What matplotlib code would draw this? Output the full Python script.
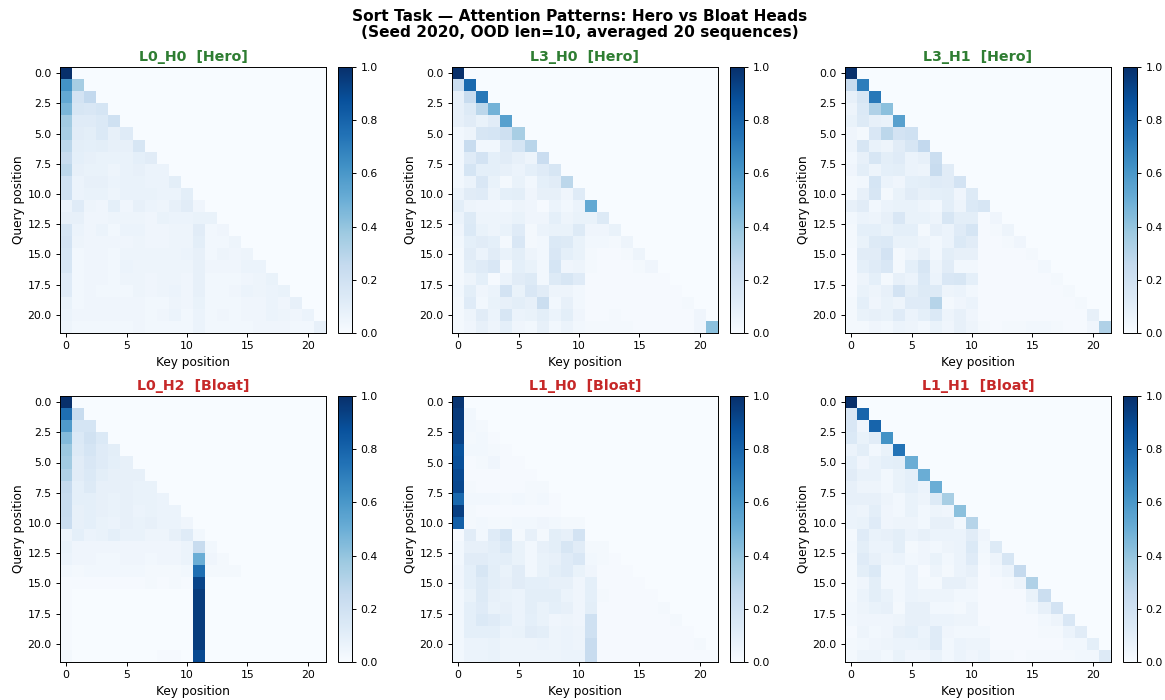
import numpy as np
import matplotlib
matplotlib.use("Agg")
import matplotlib.pyplot as plt

# Attention weights, in hundredths.
# Each row stops where the values fade to nothing, the rest is zero.
L0_H0 = [
    [100],
    [62, 35],
    [52, 18, 26],
    [46, 16, 15, 17],
    [36, 12, 12, 14, 20],
    [34, 11, 10, 14, 8, 12],
    [28, 10, 9, 10, 8, 8, 16],
    [24, 9, 8, 7, 7, 7, 9, 11],
    [28, 8, 7, 7, 5, 7, 8, 6, 6],
    [20, 6, 8, 8, 6, 7, 7, 6, 6, 10],
    [20, 6, 7, 7, 5, 7, 7, 7, 6, 6, 10],
    [6, 12, 5, 4, 9, 4, 8, 6, 5, 8, 11, 4],
    [8, 8, 4, 4, 5, 5, 5, 4, 7, 6, 6, 7, 7],
    [17, 6, 4, 6, 3, 6, 6, 4, 4, 5, 5, 11, 3, 4],
    [18, 5, 4, 4, 4, 4, 5, 4, 4, 5, 5, 10, 3, 3, 5],
    [17, 3, 4, 4, 3, 5, 5, 5, 5, 5, 6, 8, 3, 5, 4, 5],
    [16, 3, 4, 4, 3, 6, 5, 5, 5, 5, 5, 8, 4, 4, 4, 6, 6],
    [12, 3, 4, 4, 3, 5, 5, 4, 5, 5, 4, 8, 3, 3, 3, 4, 5, 7],
    [12, 3, 4, 3, 3, 3, 5, 4, 5, 6, 4, 8, 3, 3, 4, 6, 5, 6, 7],
    [7, 3, 4, 4, 4, 4, 4, 3, 3, 5, 4, 7, 3, 3, 3, 4, 4, 6, 4, 8],
    [6, 4, 4, 4, 4, 4, 4, 3, 4, 6, 3, 6, 3, 4, 3, 4, 4, 6, 5, 4, 6],
    [5, 3, 3, 3, 3, 3, 4, 3, 3, 3, 3, 6, 3, 3, 3, 3, 4, 4, 4, 3, 3, 8],
]

L3_H0 = [
    [100],
    [22, 78],
    [8, 24, 72],
    [8, 13, 28, 48],
    [8, 11, 7, 11, 56],
    [3, 5, 16, 17, 21, 34],
    [3, 24, 3, 3, 12, 17, 29],
    [3, 12, 18, 9, 11, 8, 5, 23],
    [3, 17, 9, 9, 8, 6, 9, 12, 16],
    [3, 6, 15, 7, 2, 7, 3, 9, 11, 28],
    [6, 11, 12, 5, 9, 10, 4, 8, 8, 4, 12],
    [10, 5, 4, 4, 3, 5, 4, 1, 6, 3, 6, 52],
    [6, 13, 5, 5, 5, 7, 4, 4, 9, 5, 7, 7, 13],
    [4, 14, 7, 5, 7, 12, 2, 6, 7, 7, 13, 4, 4, 7],
    [3, 9, 11, 9, 2, 15, 2, 3, 14, 13, 7, 3, 3, 2, 5],
    [2, 11, 6, 11, 7, 10, 5, 3, 15, 9, 7, 2, 1, 1, 2, 5],
    [2, 10, 12, 15, 2, 9, 7, 3, 17, 4, 5, 2, 1, 1, 1, 2, 4],
    [2, 5, 9, 1, 6, 11, 13, 3, 13, 16, 12, 1, 1, 1, 1, 1, 1, 1],
    [3, 10, 4, 6, 18, 7, 15, 11, 5, 5, 3, 1, 1, 1, 1, 1, 1, 1, 1],
    [2, 12, 3, 7, 8, 10, 8, 22, 3, 8, 3, 1, 1, 1, 1, 1, 1, 1, 1, 2],
    [2, 5, 11, 6, 16, 6, 7, 10, 6, 10, 4, 1, 1, 2, 1, 1, 1, 1, 1, 1, 4],
    [2, 4, 8, 5, 9, 4, 3, 8, 3, 6, 3, 2, 2, 2, 2, 1, 1, 1, 1, 1, 4, 42],
]

L3_H1 = [
    [100],
    [24, 70],
    [8, 16, 72],
    [5, 14, 32, 42],
    [7, 13, 8, 7, 56],
    [4, 2, 15, 28, 18, 20],
    [5, 16, 7, 5, 11, 16, 26],
    [3, 8, 16, 10, 12, 6, 8, 22],
    [4, 10, 5, 9, 10, 6, 5, 24, 11],
    [2, 3, 17, 6, 4, 9, 10, 12, 11, 18],
    [2, 8, 16, 2, 7, 11, 8, 9, 10, 4, 13],
    [8, 11, 3, 6, 7, 7, 5, 3, 10, 5, 14, 16],
    [3, 6, 5, 8, 15, 7, 7, 5, 16, 10, 10, 1, 4],
    [2, 9, 9, 7, 9, 9, 2, 8, 6, 12, 17, 1, 2, 5],
    [2, 7, 13, 14, 7, 7, 5, 3, 6, 14, 11, 1, 1, 2, 4],
    [1, 11, 11, 18, 2, 5, 8, 3, 10, 8, 8, 1, 1, 1, 1, 2],
    [1, 9, 12, 15, 2, 9, 16, 5, 11, 3, 3, 1, 1, 1, 1, 1, 3],
    [1, 5, 9, 2, 8, 6, 14, 6, 15, 16, 9, 1, 1, 1, 1, 1, 1, 2],
    [1, 7, 5, 8, 18, 10, 13, 13, 5, 6, 3, 1, 1, 1, 1, 1, 1, 1, 2],
    [2, 9, 4, 7, 5, 12, 12, 30, 2, 4, 6, 1, 1, 1, 1, 1, 1, 1, 1, 2],
    [2, 7, 8, 7, 12, 6, 9, 14, 5, 8, 4, 1, 1, 1, 1, 1, 1, 1, 1, 1, 8],
    [2, 2, 4, 3, 6, 5, 3, 7, 4, 8, 5, 2, 1, 2, 2, 3, 3, 2, 1, 1, 4, 32],
]

L0_H2 = [
    [100],
    [76, 24],
    [58, 17, 17],
    [44, 14, 19, 14],
    [38, 13, 17, 12, 10],
    [36, 11, 15, 12, 9, 8],
    [32, 11, 14, 10, 8, 8, 8],
    [25, 9, 13, 8, 8, 8, 7, 7],
    [24, 9, 9, 8, 7, 8, 7, 7, 6],
    [24, 8, 9, 8, 7, 8, 6, 7, 6, 6],
    [23, 8, 9, 7, 6, 8, 7, 8, 6, 6, 4],
    [5, 9, 6, 7, 9, 7, 7, 5, 5, 8, 12, 3],
    [7, 4, 4, 4, 4, 4, 4, 4, 4, 4, 6, 24, 3],
    [6, 4, 4, 3, 3, 4, 4, 3, 4, 4, 6, 50, 4, 2],
    [3, 2, 3, 3, 3, 3, 3, 2, 2, 2, 3, 76, 2, 2, 2],
    [1, 1, 1, 1, 1, 1, 1, 2, 1, 2, 1, 92],
    [1, 0, 0, 0, 0, 0, 0, 0, 0, 0, 0, 95],
    [1, 0, 0, 0, 0, 0, 0, 0, 0, 0, 0, 95],
    [1, 0, 0, 0, 0, 0, 0, 0, 0, 0, 0, 95],
    [1, 0, 0, 0, 0, 0, 0, 0, 0, 0, 0, 95],
    [1, 0, 0, 0, 0, 0, 0, 0, 0, 0, 0, 95],
    [2, 0, 0, 0, 0, 0, 0, 0, 1, 1, 0, 90],
]

L1_H0 = [
    [98],
    [96, 3],
    [93, 3, 2],
    [93, 2, 3, 1],
    [87, 3, 3, 2, 1],
    [88, 1, 2, 4, 1, 1],
    [90, 1, 1, 1, 1, 1, 1],
    [91, 2, 1, 1, 1, 1, 2, 2],
    [78, 3, 3, 3, 2, 3, 2, 3, 1],
    [94, 2, 1, 1, 1, 1, 1, 1, 1, 0],
    [82, 2, 3, 2, 2, 3, 3, 4, 3, 2, 2],
    [1, 11, 3, 12, 17, 2, 8, 2, 10, 8, 18],
    [3, 8, 8, 10, 14, 7, 3, 8, 10, 16, 11, 2, 2],
    [3, 11, 11, 9, 10, 7, 3, 7, 8, 12, 15, 3, 2, 1],
    [4, 9, 16, 10, 7, 11, 3, 7, 10, 12, 7, 4, 1, 1, 1],
    [4, 9, 13, 10, 8, 11, 9, 9, 8, 8, 4, 9, 1, 1, 1, 1],
    [3, 7, 13, 8, 7, 6, 10, 10, 10, 6, 4, 9, 2, 1, 1, 1, 1],
    [3, 9, 12, 7, 8, 6, 10, 7, 9, 8, 4, 10, 1, 1, 1, 1, 1, 2],
    [3, 9, 14, 12, 9, 6, 9, 7, 4, 5, 4, 20, 1, 1, 1, 1, 1, 1, 2],
    [3, 9, 9, 9, 6, 7, 11, 10, 5, 6, 5, 20, 1, 1, 1, 1, 1, 1, 1, 1],
    [3, 6, 6, 7, 5, 5, 5, 6, 5, 6, 5, 24, 1, 1, 1, 1, 1, 1, 1, 1, 2],
    [3, 6, 6, 7, 5, 5, 5, 5, 5, 6, 6, 24, 1, 1, 1, 1, 1, 1, 1, 1, 1, 1],
]

L1_H1 = [
    [100],
    [15, 80],
    [15, 4, 80],
    [14, 7, 11, 62],
    [6, 10, 3, 7, 74],
    [9, 4, 7, 9, 10, 50],
    [11, 7, 7, 3, 7, 9, 50],
    [8, 5, 5, 3, 7, 9, 6, 50],
    [8, 8, 8, 5, 3, 7, 5, 13, 34],
    [6, 5, 10, 4, 3, 7, 3, 5, 4, 42],
    [6, 7, 12, 4, 5, 5, 3, 8, 8, 3, 30],
    [2, 12, 7, 8, 10, 6, 8, 6, 6, 6, 11, 4],
    [3, 10, 6, 6, 10, 2, 4, 3, 5, 6, 14, 3, 13],
    [2, 12, 8, 5, 6, 3, 4, 7, 3, 6, 12, 2, 5, 16],
    [2, 10, 14, 3, 3, 6, 1, 5, 2, 6, 8, 1, 3, 6, 25],
    [2, 4, 10, 3, 3, 6, 2, 2, 8, 8, 5, 1, 1, 2, 5, 32],
    [2, 6, 10, 7, 3, 6, 5, 5, 5, 3, 3, 1, 1, 1, 1, 7, 22],
    [3, 5, 7, 8, 2, 8, 8, 3, 3, 2, 5, 1, 1, 1, 1, 3, 8, 18],
    [3, 4, 4, 4, 5, 8, 8, 6, 6, 5, 5, 1, 1, 1, 1, 1, 3, 5, 15],
    [1, 5, 3, 4, 8, 9, 6, 12, 4, 3, 3, 3, 1, 1, 1, 1, 2, 2, 6, 11],
    [2, 3, 4, 5, 6, 6, 7, 12, 3, 6, 5, 5, 1, 1, 1, 1, 1, 1, 3, 3, 9],
    [2, 5, 5, 3, 7, 4, 4, 7, 3, 6, 4, 6, 2, 2, 1, 2, 2, 2, 2, 3, 3, 13],
]

heads = ["L0_H0", "L3_H0", "L3_H1", "L0_H2", "L1_H0", "L1_H1"]
kinds = ["Hero", "Hero", "Hero", "Bloat", "Bloat", "Bloat"]
matrices = [L0_H0, L3_H0, L3_H1, L0_H2, L1_H0, L1_H1]

W, H = 1165, 700
colors = {"Hero": "#2e7d32", "Bloat": "#c62828"}
lefts = [60, 452, 845]
tops = [67, 396]
size = 266

fig = plt.figure(figsize=(W / 100, H / 100), dpi=100)
fig.text(580 / W, 1 - 24.5 / H,
         "Sort Task — Attention Patterns: Hero vs Bloat Heads\n"
         "(Seed 2020, OOD len=10, averaged 20 sequences)",
         ha="center", va="center", fontsize=11.1, fontweight="bold", linespacing=1.15)

for i, name in enumerate(heads):
    grid = np.zeros((22, 22))
    for r, row in enumerate(matrices[i]):
        grid[r, :len(row)] = row
    grid = grid / 100

    left = lefts[i % 3]
    top = tops[i // 3]
    ax = fig.add_axes([left / W, 1 - (top + size) / H, size / W, size / H])
    im = ax.imshow(grid, cmap="Blues", vmin=0, vmax=1, aspect="equal")
    ax.set_title(f"{name}  [{kinds[i]}]", color=colors[kinds[i]],
                 fontsize=10.3, fontweight="bold", pad=4.5)
    ax.set_xlabel("Key position", fontsize=8.7, labelpad=3)
    ax.set_ylabel("Query position", fontsize=8.7, labelpad=1.5)
    ax.tick_params(labelsize=7.8, length=3, width=0.7, pad=3)
    for spine in ax.spines.values():
        spine.set_linewidth(0.7)

    cax = fig.add_axes([(left + 278) / W, 1 - (top + size) / H, 14 / W, size / H])
    cb = fig.colorbar(im, cax=cax)
    cb.outline.set_linewidth(0.7)
    cax.tick_params(labelsize=7.8, length=3, width=0.7, pad=3)

fig.savefig("out.png", dpi=100)
